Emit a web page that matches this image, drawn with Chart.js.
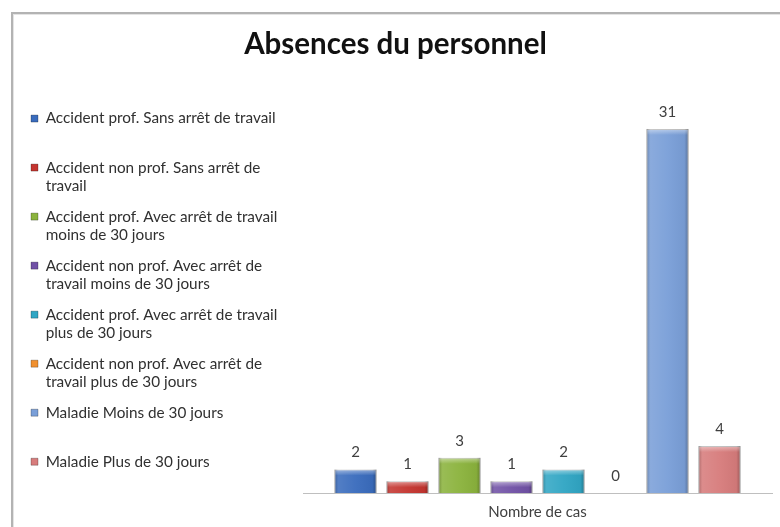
<!DOCTYPE html>
<html>
<head>
<meta charset="utf-8">
<script src="https://cdn.jsdelivr.net/npm/chart.js@4"></script>
<style>
    html, body { margin: 0; padding: 0; background: #fff; }
    #wrap { position: relative; width: 780px; height: 527px; overflow: hidden; }
    #frame {
        position: absolute; left: 11px; top: 12px; right: -5px; bottom: -5px;
        border-top: 2px solid #b3b3b3; border-left: 2px solid #b3b3b3;
        box-shadow: inset 1px 1px 0 #e4e4e4; pointer-events: none;
    }
</style>
</head>
<body>
<div id="wrap">
    <canvas id="absChart" width="780" height="527"></canvas>
    <div id="frame"></div>
</div>
<script>
// data
const categories = ['Nombre de cas'];
const seriesNames = [
    'Accident prof. Sans arrêt de travail',
    'Accident non prof. Sans arrêt de travail',
    'Accident prof. Avec arrêt de travail moins de 30 jours',
    'Accident non prof. Avec arrêt de travail moins de 30 jours',
    'Accident prof. Avec arrêt de travail plus de 30 jours',
    'Accident non prof. Avec arrêt de travail plus de 30 jours',
    'Maladie Moins de 30 jours',
    'Maladie Plus de 30 jours'
];
// legend text, broken into lines as in the picture
const legendLines = [
    ['Accident prof. Sans arrêt de travail', ''],
    ['Accident non prof. Sans arrêt de', 'travail'],
    ['Accident prof. Avec arrêt de travail', 'moins de 30 jours'],
    ['Accident non prof. Avec arrêt de', 'travail moins de 30 jours'],
    ['Accident prof. Avec arrêt de travail', 'plus de 30 jours'],
    ['Accident non prof. Avec arrêt de', 'travail plus de 30 jours'],
    ['Maladie Moins de 30 jours', ''],
    ['Maladie Plus de 30 jours', '']
];
const caseCounts = [2, 1, 3, 1, 2, 0, 31, 4];
const yMax = 35;

const barColors = ['#3a6cbd', '#c43530', '#8bb33d', '#7152a6', '#31a6c4', '#f0902f', '#7a9fd8', '#d77c7c'];
const legendWidth = 284;

// the legend measures multi-line text too narrow, so pin its width
const legendWidthFix = {
    id: 'legendWidthFix',
    beforeLayout(chart) {
        const lg = chart.legend;
        if (lg && !lg._widthFixed) {
            const fit = lg.fit;
            lg.fit = function () { fit.call(this); this.width = legendWidth; };
            lg._widthFixed = true;
        }
    }
};

// draws the number above each bar
const valueLabels = {
    id: 'valueLabels',
    afterDatasetsDraw(chart) {
        const ctx = chart.ctx;
        ctx.save();
        ctx.font = '15px Lato';
        ctx.fillStyle = '#404040';
        ctx.textAlign = 'center';
        ctx.textBaseline = 'middle';
        chart.data.datasets.forEach((ds, i) => {
            chart.getDatasetMeta(i).data.forEach((bar, j) => {
                ctx.fillText(String(ds.data[j]), bar.x, bar.y - 17);
            });
        });
        ctx.restore();
    }
};

// soft bevel shading on top of the bars, like the old office look
const barShade = {
    id: 'barShade',
    afterDatasetDraw(chart, args) {
        const ctx = chart.ctx;
        args.meta.data.forEach(bar => {
            const { x, y, base, width } = bar.getProps(['x', 'y', 'base', 'width'], true);
            const h = base - y;
            if (h <= 1) return;
            const l = x - width / 2;
            const g = ctx.createLinearGradient(l, 0, l + width, 0);
            g.addColorStop(0, 'rgba(0,0,0,0.25)');
            g.addColorStop(0.1, 'rgba(255,255,255,0.12)');
            g.addColorStop(0.5, 'rgba(255,255,255,0.04)');
            g.addColorStop(0.9, 'rgba(0,0,0,0.04)');
            g.addColorStop(1, 'rgba(0,0,0,0.28)');
            ctx.save();
            ctx.fillStyle = g;
            ctx.fillRect(l, y, width, h);
            const th = Math.min(6, h - 1);
            const t = ctx.createLinearGradient(0, y, 0, y + th);
            t.addColorStop(0, 'rgba(255,255,255,0.45)');
            t.addColorStop(1, 'rgba(255,255,255,0)');
            ctx.fillStyle = t;
            ctx.fillRect(l + 1, y + 1, width - 2, th);
            ctx.restore();
        });
    }
};

const datasets = seriesNames.map((name, i) => ({
    label: name,
    data: [caseCounts[i]],
    backgroundColor: barColors[i],
    borderColor: 'rgba(0,0,0,0.25)',
    borderWidth: 1,
    categoryPercentage: 0.887,
    barPercentage: 0.81
}));

const ctx = document.getElementById('absChart').getContext('2d');
new Chart(ctx, {
    type: 'bar',
    data: { labels: categories, datasets: datasets },
    plugins: [legendWidthFix, barShade, valueLabels],
    options: {
        responsive: false,
        animation: false,
        layout: { padding: { left: 19, right: 8, top: 0, bottom: 0 } },
        plugins: {
            title: {
                display: true,
                text: 'Absences du personnel',
                color: '#111',
                font: { family: 'Lato', size: 29.5, weight: 'bold' },
                padding: { top: 27, bottom: 19.6 }
            },
            legend: {
                position: 'left',
                align: 'start',
                title: { display: true, text: ' ', font: { size: 12 }, padding: { top: 84.5, bottom: 0 } },
                labels: {
                    boxWidth: 7,
                    boxHeight: 7,
                    padding: 12,
                    color: '#303030',
                    font: { family: 'Lato', size: 15.3, lineHeight: 1.21 },
                    generateLabels(chart) {
                        const items = Chart.defaults.plugins.legend.labels.generateLabels(chart);
                        items.forEach((it, i) => { it.text = legendLines[i]; });
                        return items;
                    }
                }
            },
            tooltip: { enabled: false }
        },
        scales: {
            x: {
                grid: { display: false, drawTicks: false },
                border: { color: '#bfbfbf' },
                ticks: { color: '#404040', padding: 10, font: { family: 'Lato', size: 15 } },
                afterFit(scale) { scale.height = 34; }
            },
            y: {
                display: false,
                min: 0,
                max: yMax
            }
        }
    }
});
</script>
</body>
</html>
